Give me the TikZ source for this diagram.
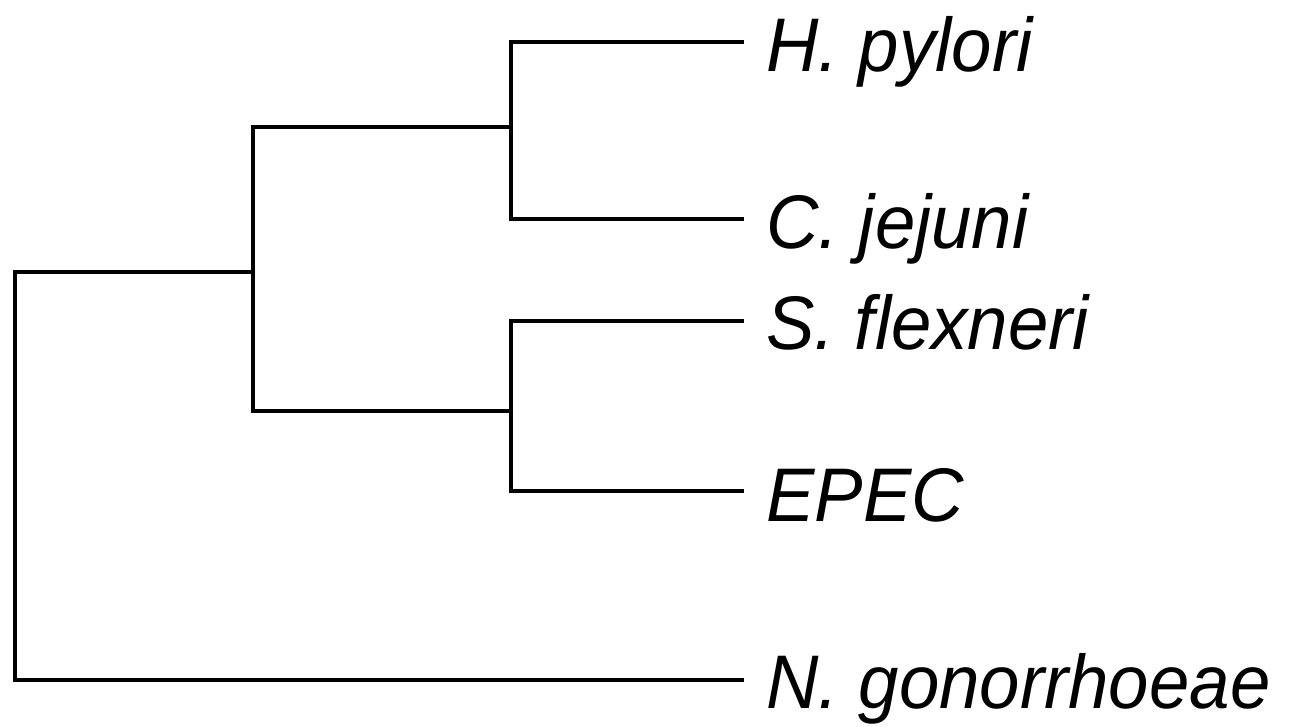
\documentclass[tikz,border=0pt]{standalone}
\usepackage{fontspec}
\setmainfont{Liberation Sans}
\begin{document}
\begin{tikzpicture}[x=1pt,y=-1pt,
  branch/.style={line width=4.6pt,line join=miter},
  taxon/.style={anchor=base west,inner sep=0pt,xscale=0.955,
    font=\fontsize{76}{90}\selectfont\itshape}]
\useasboundingbox (0,0) rectangle (1289,726);

% leaf tips
\coordinate (hp) at (744,42);
\coordinate (cj) at (744,219);
\coordinate (sf) at (744,321);
\coordinate (ep) at (744,491);
\coordinate (ng) at (744,680);

% internal nodes
\coordinate (n1) at (511,127);
\coordinate (n2) at (511,411);
\coordinate (n3) at (253,272);
\coordinate (n0) at (15,476);

% taxon labels
\node[taxon] (lhp) at (766,71)  {H. pylori};
\node[taxon] (lcj) at (766,248) {C. jejuni};
\node[taxon] (lsf) at (766,349) {S. flexneri};
\node[taxon] (lep) at (766,521) {EPEC};
\node[taxon] (lng) at (766,708) {N. gonorrhoeae};

% branches
\draw[branch] (n1) |- (hp);
\draw[branch] (n1) |- (cj);
\draw[branch] (n2) |- (sf);
\draw[branch] (n2) |- (ep);
\draw[branch] (n3) |- (n1);
\draw[branch] (n3) |- (n2);
\draw[branch] (n0) |- (n3);
\draw[branch] (n0) |- (ng);
\end{tikzpicture}
\end{document}
